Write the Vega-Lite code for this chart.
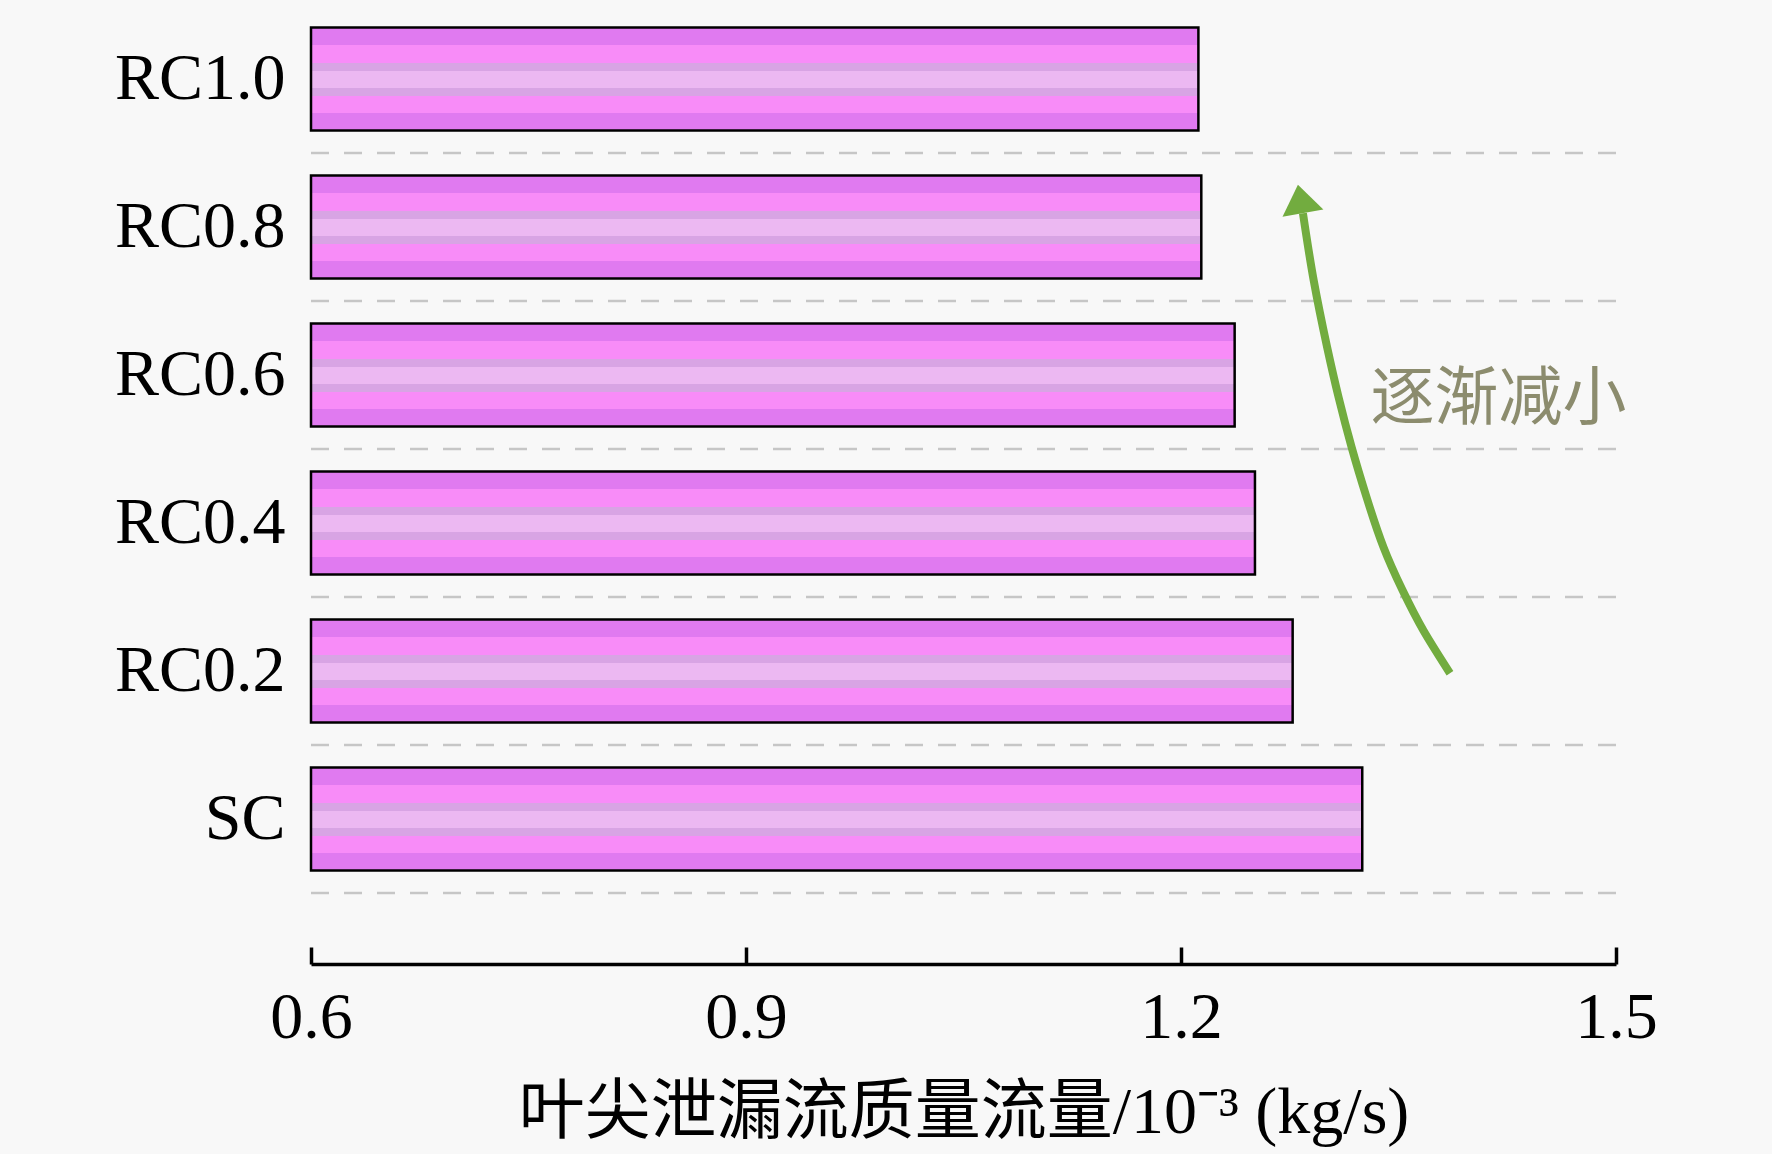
{
  "$schema": "https://vega.github.io/schema/vega-lite/v6.json",
  "width": 1305,
  "height": 888,
  "autosize": {"type": "none"},
  "padding": {"left": 311, "top": 5, "right": 156, "bottom": 261},
  "background": "#f8f8f8",
  "datasets": {
    "bars": [
      {"case": "RC1.0", "flow": 1.212},
      {"case": "RC0.8", "flow": 1.214},
      {"case": "RC0.6", "flow": 1.237},
      {"case": "RC0.4", "flow": 1.251},
      {"case": "RC0.2", "flow": 1.277},
      {"case": "SC", "flow": 1.325}
    ],
    "grid": [{"g": 0}, {"g": 1}, {"g": 2}, {"g": 3}, {"g": 4}, {"g": 5}],
    "arrow": [
      {"i": 0, "x": 1.3855, "y": 1.485},
      {"i": 1, "x": 1.3671, "y": 1.775},
      {"i": 2, "x": 1.3528, "y": 2.045},
      {"i": 3, "x": 1.3397, "y": 2.335},
      {"i": 4, "x": 1.328, "y": 2.673},
      {"i": 5, "x": 1.3177, "y": 3.011},
      {"i": 6, "x": 1.3087, "y": 3.349},
      {"i": 7, "x": 1.3008, "y": 3.687},
      {"i": 8, "x": 1.2915, "y": 4.14},
      {"i": 9, "x": 1.2841, "y": 4.593}
    ],
    "head": [{"x": 1.2828, "y": 4.666}],
    "note": [{"x": 1.419, "y": 3.33, "label": "逐渐减小"}]
  },
  "layer": [
    {
      "data": {"name": "grid"},
      "mark": {"type": "rule", "strokeDash": [18, 15], "color": "#c6c6c6", "strokeWidth": 2.5},
      "encoding": {
        "x": {
          "datum": 0.6,
          "type": "quantitative",
          "scale": {"domain": [0.6, 1.5], "zero": false},
          "axis": {
            "title": "叶尖泄漏流质量流量/10⁻³ (kg/s)",
            "values": [0.6, 0.9, 1.2, 1.5],
            "format": ".1f"
          }
        },
        "x2": {"datum": 1.5},
        "y": {"field": "g", "type": "quantitative", "scale": {"domain": [0, 6]}, "axis": null}
      }
    },
    {
      "data": {"name": "bars"},
      "mark": {
        "type": "bar",
        "stroke": "black",
        "strokeWidth": 2.5,
        "fill": {
          "gradient": "linear",
          "x1": 0, "y1": 0, "x2": 0, "y2": 1,
          "stops": [
            {"offset": 0, "color": "#e07af0"},
            {"offset": 0.174, "color": "#e07af0"},
            {"offset": 0.174, "color": "#f88cf8"},
            {"offset": 0.341, "color": "#f88cf8"},
            {"offset": 0.341, "color": "#d8a4e4"},
            {"offset": 0.42, "color": "#d8a4e4"},
            {"offset": 0.42, "color": "#ecb8f2"},
            {"offset": 0.59, "color": "#ecb8f2"},
            {"offset": 0.59, "color": "#d8a4e4"},
            {"offset": 0.669, "color": "#d8a4e4"},
            {"offset": 0.669, "color": "#f88cf8"},
            {"offset": 0.829, "color": "#f88cf8"},
            {"offset": 0.829, "color": "#e07af0"},
            {"offset": 1, "color": "#e07af0"}
          ]
        }
      },
      "encoding": {
        "y": {
          "field": "case",
          "type": "nominal",
          "sort": ["RC1.0", "RC0.8", "RC0.6", "RC0.4", "RC0.2", "SC"],
          "scale": {"paddingInner": 0.304, "paddingOuter": 0.152},
          "axis": {"title": null}
        },
        "x": {"field": "flow", "type": "quantitative"},
        "x2": {"datum": 0.6}
      }
    },
    {
      "data": {"name": "arrow"},
      "mark": {"type": "line", "color": "#72ac3f", "strokeWidth": 8, "strokeCap": "butt", "interpolate": "natural"},
      "encoding": {
        "x": {"field": "x", "type": "quantitative"},
        "y": {"field": "y", "type": "quantitative", "scale": {"domain": [0, 6]}, "axis": null},
        "order": {"field": "i"}
      }
    },
    {
      "data": {"name": "head"},
      "mark": {
        "type": "point",
        "shape": "M0,-1L1.15,0.6L-1.15,0.6Z",
        "size": 1300,
        "angle": 350,
        "filled": true,
        "opacity": 1,
        "color": "#72ac3f"
      },
      "encoding": {
        "x": {"field": "x", "type": "quantitative"},
        "y": {"field": "y", "type": "quantitative", "scale": {"domain": [0, 6]}, "axis": null}
      }
    },
    {
      "data": {"name": "note"},
      "mark": {
        "type": "text",
        "font": "Noto Sans CJK SC",
        "fontSize": 64,
        "color": "#8c8c6e",
        "align": "center",
        "baseline": "middle"
      },
      "encoding": {
        "x": {"field": "x", "type": "quantitative"},
        "y": {"field": "y", "type": "quantitative", "scale": {"domain": [0, 6]}, "axis": null},
        "text": {"field": "label"}
      }
    }
  ],
  "resolve": {"scale": {"y": "independent"}},
  "config": {
    "view": {"stroke": null},
    "axis": {"grid": false},
    "axisY": {
      "domain": false,
      "ticks": false,
      "labelFont": "Liberation Serif",
      "labelFontSize": 66,
      "labelColor": "black",
      "labelPadding": 26
    },
    "axisX": {
      "offset": 71,
      "tickSize": -17,
      "tickWidth": 3.5,
      "tickColor": "black",
      "domainWidth": 3.5,
      "domainColor": "black",
      "labelFont": "Liberation Serif",
      "labelFontSize": 66,
      "labelColor": "black",
      "labelPadding": 38,
      "labelFlush": false,
      "titleFont": "Liberation Serif, Noto Sans CJK SC",
      "titleFontSize": 66,
      "titleFontWeight": "normal",
      "titleColor": "black",
      "titlePadding": 30
    }
  }
}
